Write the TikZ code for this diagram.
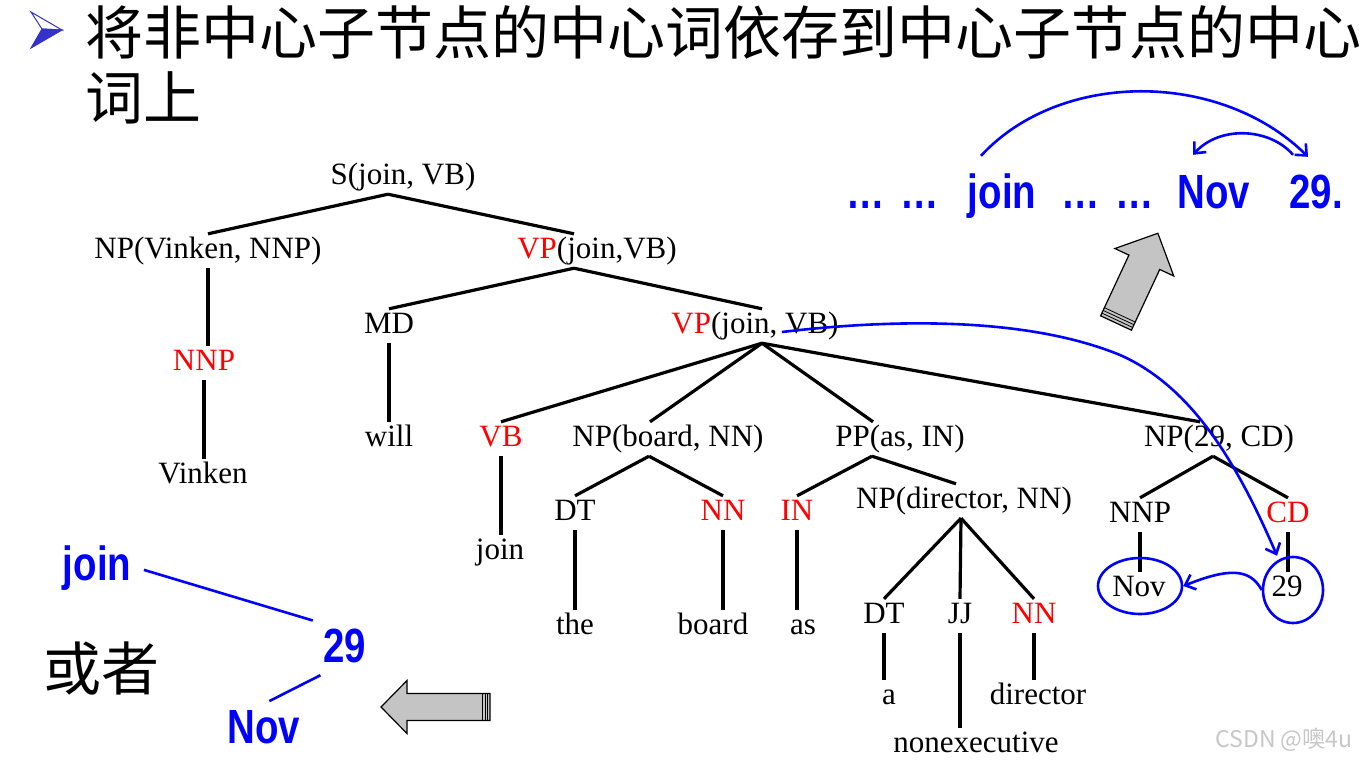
\documentclass[tikz,border=0pt]{standalone}
\usepackage{fontspec}
\setmainfont{Liberation Serif}
\newfontfamily\cjkfont{Noto Sans CJK SC}
\newfontfamily\headfont{Liberation Sans}[FakeStretch=0.8]
\usetikzlibrary{arrows.meta,shapes.geometric}
\definecolor{linkBlue}{RGB}{0,0,255}
\definecolor{tagRed}{RGB}{255,0,0}
\definecolor{bulletBlue}{RGB}{51,51,204}
\definecolor{arrowGray}{RGB}{196,196,196}
\newcommand{\hd}[1]{\textcolor{tagRed}{#1}}

\begin{document}
\begin{tikzpicture}[x=1pt, y=-1pt,
    tag/.style={font=\fontsize{31}{31}\selectfont, inner sep=2pt, text height=22pt, text depth=8pt},
    edge/.style={line width=3.2pt},
    link/.style={linkBlue, line width=2.6pt},
    linktip/.style={link, -{Straight Barb[length=9pt,width=16pt]}},
    word/.style={font=\headfont\bfseries\fontsize{48}{48}\selectfont, text=linkBlue, inner sep=3pt, text height=36pt, text depth=10pt, anchor=base},
    title/.style={font=\cjkfont\fontsize{58}{58}\selectfont, inner sep=0pt, anchor=west},
    ring/.style={draw=linkBlue, line width=2.6pt, ellipse, inner sep=0pt}]
  \fill[white] (0,0) rectangle (1367,763);
  \useasboundingbox (0,0) rectangle (1367,763);

  % heading
  \filldraw[bulletBlue, line width=1pt] (31,48) -- (42,29) -- (62,30) -- cycle;
  \draw[bulletBlue, line width=1pt] (31,12) -- (62,30) -- (42,29) -- cycle;
  \node[title] (line1) at (85,32) {将非中心子节点的中心词依存到中心子节点的中心};
  \node[title] (line2) at (85,98) {词上};

  % tree
  \node[tag] (S) at (403,177) {S(join, VB)};
  \node[tag] (np1) at (208,251) {NP(Vinken, NNP)};
  \node[tag] (vp1) at (597,251) {\hd{VP}(join,VB)};
  \node[tag, text=tagRed] (nnp1) at (204,363) {NNP};
  \node[tag] (vinken) at (203,476) {Vinken};
  \node[tag] (md) at (389,326) {MD};
  \node[tag] (will) at (389,439) {will};
  \node[tag] (vp2) at (755,326) {\hd{VP}(join, VB)};
  \node[tag, text=tagRed] (vb) at (501,439) {VB};
  \node[tag] (join) at (500,552) {join};
  \node[tag] (npb) at (668,439) {NP(board, NN)};
  \node[tag] (dt1) at (575,513) {DT};
  \node[tag] (the) at (575,627) {the};
  \node[tag, text=tagRed] (nn1) at (723,513) {NN};
  \node[tag] (board) at (713,627) {board};
  \node[tag] (pp) at (900,439) {PP(as, IN)};
  \node[tag, text=tagRed] (in) at (797,513) {IN};
  \node[tag] (as) at (803,627) {as};
  \node[tag] (npd) at (964,501) {NP(director, NN)};
  \node[tag] (dt2) at (884,616) {DT};
  \node[tag] (a) at (889,697) {a};
  \node[tag] (jj) at (960,616) {JJ};
  \node[tag] (nonexec) at (976,745) {nonexecutive};
  \node[tag, text=tagRed] (nn2) at (1034,616) {NN};
  \node[tag] (director) at (1038,697) {director};
  \node[tag] (np29) at (1219,439) {NP(29, CD)};
  \node[tag] (nnp2) at (1140,515) {NNP};
  \node[tag, text=tagRed] (cd) at (1288,515) {CD};
  \node[tag] (nov) at (1139,589) {Nov};
  \node[tag] (n29) at (1287,589) {29};

  \draw[edge] ([xshift=-15pt]S.south) -- (np1.north);
  \draw[edge] ([xshift=-15pt]S.south) -- ([xshift=-23pt]vp1.north);
  \draw[edge] (np1.south) -- (np1.south |- nnp1.north);
  \draw[edge] (nnp1.south) -- (nnp1.south |- vinken.north);
  \draw[edge] ([xshift=-23pt]vp1.south) -- (md.north);
  \draw[edge] ([xshift=-23pt]vp1.south) -- ([xshift=7pt]vp2.north);
  \draw[edge] (md.south) -- (md.south |- will.north);
  \draw[edge] ([xshift=7pt]vp2.south) -- (vb.north);
  \draw[edge] ([xshift=7pt]vp2.south) -- ([xshift=-18pt]npb.north);
  \draw[edge] ([xshift=7pt]vp2.south) -- ([xshift=-27pt]pp.north);
  \draw[edge] ([xshift=7pt]vp2.south) -- ([xshift=-19pt]np29.north);
  \draw[edge] (vb.south) -- (vb.south |- join.north);
  \draw[edge] ([xshift=-19pt]npb.south) -- (dt1.north);
  \draw[edge] ([xshift=-19pt]npb.south) -- (nn1.north);
  \draw[edge] (dt1.south) -- (dt1.south |- the.north);
  \draw[edge] (nn1.south) -- (nn1.south |- board.north);
  \draw[edge] ([xshift=-28pt]pp.south) -- (in.north);
  \draw[edge] ([xshift=-28pt]pp.south) -- ([xshift=-8pt]npd.north);
  \draw[edge] (in.south) -- (in.south |- as.north);
  \draw[edge] ([xshift=-3pt]npd.south) -- (dt2.north);
  \draw[edge] ([xshift=-3pt]npd.south) -- (jj.north);
  \draw[edge] ([xshift=-3pt]npd.south) -- (nn2.north);
  \draw[edge] (dt2.south) -- (dt2.south |- a.north);
  \draw[edge] (jj.south) -- (jj.south |- nonexec.north);
  \draw[edge] (nn2.south) -- (nn2.south |- director.north);
  \draw[edge] ([xshift=-6pt]np29.south) -- (nnp2.north);
  \draw[edge] ([xshift=-6pt]np29.south) -- (cd.north);
  \draw[edge] (nnp2.south) -- (nnp2.south |- nov.north);
  \draw[edge] (cd.south) -- (cd.south |- n29.north);

  % head links
  \node[ring, minimum width=84pt, minimum height=56pt] (cnov) at (1140,586) {};
  \node[ring, minimum width=60pt, minimum height=66pt] (c29) at (1293,590) {};
  \draw[linktip] ([xshift=27pt,yshift=-6pt]vp2.center) .. controls (900,318) and (1030,318) .. (1120,355)
    .. controls (1195,388) and (1240,470) .. ([xshift=-16pt]c29.north);
  \draw[linktip] (c29.west) .. controls +(-12,-22) and +(45,-18) .. (cnov.east);

  % sentence
  \node[word] (d1) at (893,208) {…\hspace{5pt} …};
  \node[word] (tjoin) at (1002,208) {join};
  \node[word] (d2) at (1108,208) {…\hspace{5pt} …};
  \node[word] (tnov) at (1214,208) {Nov};
  \node[word] (t29) at (1316,208) {29.};
  \draw[linktip] ([xshift=-21pt,yshift=13pt]tjoin.north) .. controls (1060,70) and (1220,70) .. ([xshift=-8pt,yshift=12pt]t29.north);
  \draw[linktip] ([xshift=-23pt,yshift=14pt]t29.north) .. controls (1270,128) and (1220,125) .. ([xshift=-21pt,yshift=14pt]tnov.north);

  % block arrows
  \begin{scope}[shift={(1116,323)}, rotate=65]
    \filldraw[fill=arrowGray, line width=1.2pt] (0,-17) -- (67,-17) -- (67,-32.5) -- (99,0) -- (67,32.5) -- (67,17) -- (0,17) -- cycle;
    \foreach \s in {3,6,9} \draw[line width=0.8pt] (\s,-17) -- (\s,17);
  \end{scope}
  \begin{scope}[shift={(490,707)}, rotate=180]
    \filldraw[fill=arrowGray, line width=1.2pt] (0,-13.5) -- (83,-13.5) -- (83,-26.5) -- (109,0) -- (83,26.5) -- (83,13.5) -- (0,13.5) -- cycle;
    \foreach \s in {2.5,5,7.5} \draw[line width=0.8pt] (\s,-13.5) -- (\s,13.5);
  \end{scope}

  % dependency tree
  \node[title, anchor=center] (huozhe) at (101,668) {或者};
  \node[word] (bjoin) at (97,580) {join};
  \node[word] (b29) at (345,662) {29};
  \node[word] (bnov) at (264,743) {Nov};
  \draw[link, shorten <=10pt, shorten >=8pt] (bjoin.east) -- (b29.north west);
  \draw[link, shorten >=6pt] (b29.south west) -- (bnov.north);

  \node[font=\cjkfont\fontsize{23}{23}\selectfont, text=black!22] (mark) at (1284,740) {CSDN @噢4u};
\end{tikzpicture}
\end{document}
